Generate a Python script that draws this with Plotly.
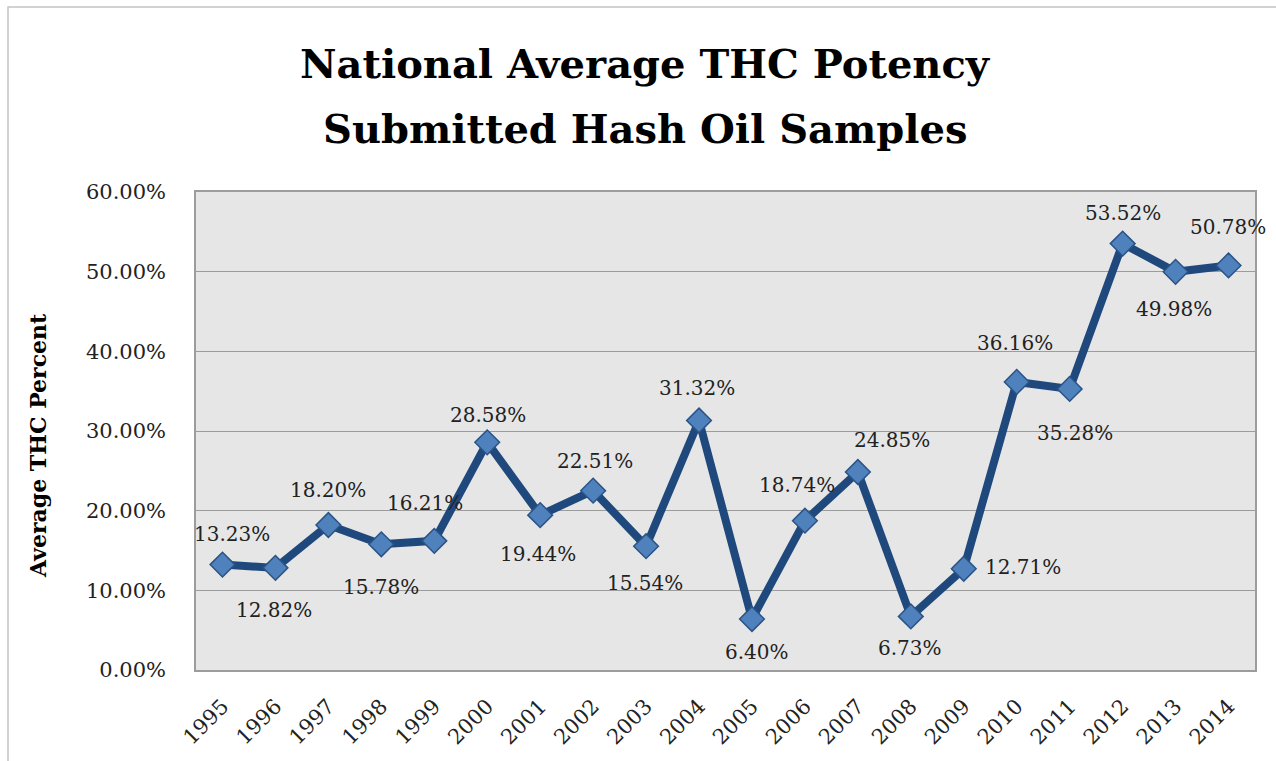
import plotly.graph_objects as go

years = list(range(1995, 2015))
potency = [13.23, 12.82, 18.20, 15.78, 16.21, 28.58, 19.44, 22.51, 15.54, 31.32,
           6.40, 18.74, 24.85, 6.73, 12.71, 36.16, 35.28, 53.52, 49.98, 50.78]
y_ticks = [0, 10, 20, 30, 40, 50, 60]

# label offsets (pixels) from each marker
label_dx = [10, -1, 0, 0, -9, 1, -2, 2, -1, -2, 5, -8, 34, -1, 59, -2, 5, 0, -2, -1]
label_dy = [31, -42, 35, -43, 38, 27, -39, 30, -37, 32, -33, 36, 32, -32, 2, 39, -44, 31, -37, 38]

SERIF = "DejaVu Serif"
L, R, T, B = 196, 1255, 192, 670
W, H = 1276, 761


def px_x(px):
    return (px - L) / (R - L)


def px_y(py):
    return (B - py) / (B - T)


fig = go.Figure()
fig.add_trace(go.Scatter(
    x=years, y=potency, mode="lines+markers",
    line=dict(color="#1f497d", width=8),
    marker=dict(symbol="diamond", size=19, color="#4f81bd",
                line=dict(color="#2a5385", width=1.5)),
    hoverinfo="skip", showlegend=False,
))

annotations = []
for yr, v, dx, dy in zip(years, potency, label_dx, label_dy):
    annotations.append(dict(
        x=yr, y=v, xref="x", yref="y", text=f"{v:.2f}%", showarrow=False,
        xshift=dx, yshift=dy, font=dict(family=SERIF, size=20, color="#222222"),
    ))

annotations += [
    dict(x=px_x(645), y=px_y(63), xref="paper", yref="paper",
         text="<b>National Average THC Potency</b>", showarrow=False,
         xanchor="center", yanchor="middle",
         font=dict(family=SERIF, size=40, color="#000000")),
    dict(x=px_x(645), y=px_y(128), xref="paper", yref="paper",
         text="<b>Submitted Hash Oil Samples</b>", showarrow=False,
         xanchor="center", yanchor="middle",
         font=dict(family=SERIF, size=40, color="#000000")),
    dict(x=px_x(38), y=px_y(446), xref="paper", yref="paper",
         text="<b>Average THC Percent</b>", showarrow=False, textangle=-90,
         xanchor="center", yanchor="middle",
         font=dict(family=SERIF, size=22, color="#000000")),
]

fig.update_layout(
    width=W, height=H,
    margin=dict(l=L, r=W - R, t=T, b=H - B, pad=0),
    paper_bgcolor="#ffffff",
    plot_bgcolor="#e6e6e6",
    annotations=annotations,
    shapes=[dict(type="rect", xref="paper", yref="paper",
                 x0=px_x(8), x1=px_x(W + 20), y0=px_y(H + 20), y1=px_y(7),
                 line=dict(color="#c4c4c4", width=1.5), fillcolor="rgba(0,0,0,0)",
                 layer="below")],
)

fig.update_xaxes(
    range=[1994.5, 2014.5], tickvals=years, ticktext=[str(y) for y in years],
    tickangle=-45, showgrid=False, zeroline=False,
    showline=True, linecolor="#9c9c9c", linewidth=1.5, mirror=True,
    ticks="", ticklabelstandoff=14,
    tickfont=dict(family=SERIF, size=21, color="#222222"),
)
fig.update_yaxes(
    range=[0, 60], tickvals=y_ticks, ticktext=[f"{t:.2f}%" for t in y_ticks],
    showgrid=True, gridcolor="#9c9c9c", gridwidth=1.2,
    showline=True, linecolor="#9c9c9c", linewidth=1.5, mirror=True,
    zeroline=False, ticks="", ticklabelstandoff=24,
    tickfont=dict(family=SERIF, size=21, color="#222222"),
)

fig.write_html("out.html")
